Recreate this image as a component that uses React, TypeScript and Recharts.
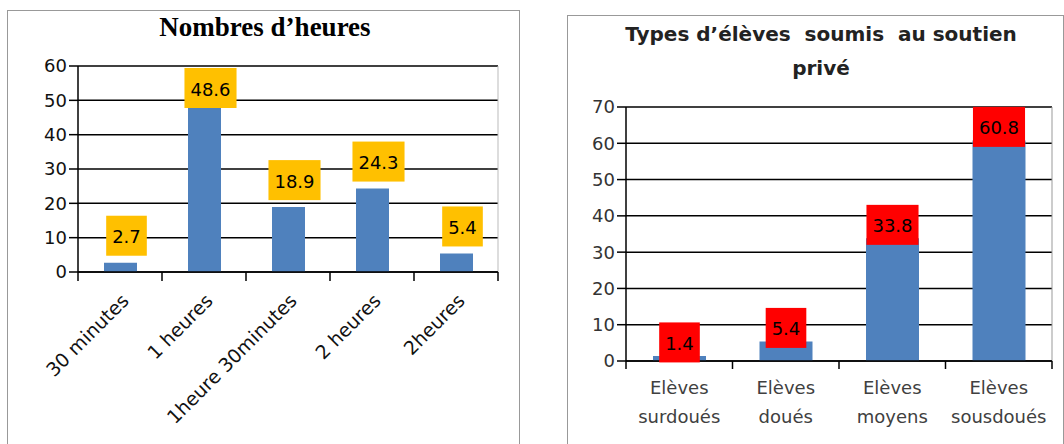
import React from 'react';
import { BarChart, Bar, XAxis, YAxis, CartesianGrid, LabelList } from 'recharts';

const hoursCategories = ['30 minutes', '1 heures', '1heure 30minutes', '2 heures', '2heures'];
const hoursValues = [2.7, 48.6, 18.9, 24.3, 5.4];
const hoursTicks = [0, 10, 20, 30, 40, 50, 60];

const typeCategories = ['Elèves\nsurdoués', 'Elèves\ndoués', 'Elèves\nmoyens', 'Elèves\nsousdoués'];
const typeValues = [1.4, 5.4, 33.8, 60.8];
const typeTicks = [0, 10, 20, 30, 40, 50, 60, 70];

const hoursData = hoursCategories.map((c, i) => ({ name: c, value: hoursValues[i] }));
const typeData = typeCategories.map((c, i) => ({ name: c, value: typeValues[i] }));

const FONT = '"DejaVu Sans", Verdana, sans-serif';
const BLUE = '#4F81BD';

let ctx: any = null;
function measure(text: string, font: string): number {
  try {
    if (!ctx) ctx = document.createElement('canvas').getContext('2d');
    ctx.font = font;
    return ctx.measureText(text).width;
  } catch (e) {
    return text.length * 10;
  }
}

// Left chart geometry
const L_W = 512, L_H = 434;
const L_M = { top: 56, right: 22, bottom: 0, left: 0 };
const L_YW = 70;
const L_XH = 172;
const L_PLOT_W = L_W - L_M.left - L_M.right - L_YW;

// Right chart geometry
const R_W = 497, R_H = 429;
const R_M = { top: 92, right: 12, bottom: 0, left: 0 };
const R_YW = 59;
const R_XH = 83;
const R_PLOT_W = R_W - R_M.left - R_M.right - R_YW;

const HoursTick = (props: any) => {
  const { x, y, payload, index } = props;
  const n = hoursCategories.length;
  const band = L_PLOT_W / n;
  const X = Number(x), Y = Number(y);
  return (
    <g>
      <line x1={X - band / 2} y1={Y} x2={X - band / 2} y2={Y + 9} stroke="#000" strokeWidth={1.5} />
      {index === n - 1 && <line x1={X + band / 2} y1={Y} x2={X + band / 2} y2={Y + 9} stroke="#000" strokeWidth={1.5} />}
      <text
        x={X + 10}
        y={Y + 30}
        textAnchor="end"
        transform={`rotate(-45 ${X + 10} ${Y + 30})`}
        fontFamily={FONT}
        fontSize={19}
        fill="#111"
      >
        {payload.value}
      </text>
    </g>
  );
};

const TypeTick = (props: any) => {
  const { x, y, payload, index } = props;
  const n = typeCategories.length;
  const band = R_PLOT_W / n;
  const X = Number(x), Y = Number(y);
  const lines = String(payload.value).split('\n');
  return (
    <g>
      <line x1={X - band / 2} y1={Y} x2={X - band / 2} y2={Y + 8} stroke="#000" strokeWidth={1.5} />
      {index === n - 1 && <line x1={X + band / 2} y1={Y} x2={X + band / 2} y2={Y + 8} stroke="#000" strokeWidth={1.5} />}
      <text textAnchor="middle" fontFamily={FONT} fontSize={18} fill="#404040">
        {lines.map((l, i) => (
          <tspan key={i} x={X} y={Y + 33 + i * 29}>{l}</tspan>
        ))}
      </text>
    </g>
  );
};

const HoursLabel = (p: any) => {
  const x = Number(p.x), y = Number(p.y), width = Number(p.width);
  const txt = String(p.value);
  const tw = measure(txt, `18px ${FONT}`);
  const w = tw + 12;
  const h = 40;
  const cx = x + width / 2 + 6;
  let top = y - 7 - h;
  top = Math.max(top, L_M.top + 2);
  return (
    <g>
      <rect x={cx - w / 2} y={top} width={w} height={h} fill="#FFC000" />
      <text x={cx} y={top + h / 2 + 1} textAnchor="middle" dominantBaseline="central" fontFamily={FONT} fontSize={18} fill="#000">
        {txt}
      </text>
    </g>
  );
};

const TypeLabel = (p: any) => {
  const x = Number(p.x), y = Number(p.y), width = Number(p.width);
  const txt = String(p.value);
  const tw = measure(txt, `18px ${FONT}`);
  const w = tw + 12;
  const h = 40;
  const cx = x + width / 2;
  const top = y - 13.5 - h / 2;
  return (
    <g>
      <rect x={cx - w / 2} y={top} width={w} height={h} fill="#FF0000" />
      <text x={cx} y={top + h / 2 + 1} textAnchor="middle" dominantBaseline="central" fontFamily={FONT} fontSize={18} fill="#000">
        {txt}
      </text>
    </g>
  );
};

export default function App() {
  return (
    <div style={{ position: 'absolute', left: 0, top: 0, width: 1064, height: 444, background: '#fff', overflow: 'hidden' }}>
      {/* Left panel */}
      <div style={{ position: 'absolute', left: 7, top: 10, width: 513, height: 460, border: '1px solid #999', boxSizing: 'border-box' }} />
      <div style={{ position: 'absolute', left: 8, top: 11, width: 514, textAlign: 'center', fontFamily: '"Liberation Serif", serif', fontWeight: 'bold', fontSize: 27, lineHeight: '32px', color: '#000' }}>
        Nombres d’heures
      </div>
      <div style={{ position: 'absolute', left: 8, top: 10 }}>
        <BarChart width={L_W} height={L_H} data={hoursData} margin={L_M} barSize={33}>
          <CartesianGrid vertical={false} stroke="#000" strokeWidth={1.5} />
          <CartesianGrid horizontal={false} verticalCoordinatesGenerator={() => [L_M.left + L_YW + L_PLOT_W]} stroke="#bbb" />
          <XAxis
            dataKey="name"
            interval={0}
            height={L_XH}
            tickLine={false}
            tickSize={0}
            tickMargin={0}
            axisLine={{ stroke: '#000', strokeWidth: 1.5 }}
            tick={<HoursTick />}
          />
          <YAxis
            width={L_YW}
            domain={[0, 60]}
            ticks={hoursTicks}
            interval={0}
            tickSize={9}
            tickMargin={2}
            tickLine={{ stroke: '#000', strokeWidth: 1.5 }}
            axisLine={{ stroke: '#000', strokeWidth: 1.5 }}
            tick={{ fill: '#111', fontSize: 18, fontFamily: FONT }}
          />
          <Bar dataKey="value" fill={BLUE} isAnimationActive={false}>
            <LabelList dataKey="value" content={<HoursLabel />} />
          </Bar>
        </BarChart>
      </div>

      {/* Right panel */}
      <div style={{ position: 'absolute', left: 567, top: 15, width: 497, height: 460, border: '1px solid #999', boxSizing: 'border-box' }} />
      <div style={{ position: 'absolute', left: 570, top: 17, width: 502, textAlign: 'center', fontFamily: FONT, fontWeight: 'bold', fontSize: 20, lineHeight: '34px', color: '#222', whiteSpace: 'pre' }}>
        {'Types d’élèves  soumis  au soutien\nprivé'}
      </div>
      <div style={{ position: 'absolute', left: 567, top: 15 }}>
        <BarChart width={R_W} height={R_H} data={typeData} margin={R_M} barSize={53}>
          <CartesianGrid vertical={false} stroke="#000" strokeWidth={1.5} />
          <CartesianGrid horizontal={false} verticalCoordinatesGenerator={() => [R_M.left + R_YW + R_PLOT_W]} stroke="#999" />
          <XAxis
            dataKey="name"
            interval={0}
            height={R_XH}
            tickLine={false}
            tickSize={0}
            tickMargin={0}
            axisLine={{ stroke: '#000', strokeWidth: 1.5 }}
            tick={<TypeTick />}
          />
          <YAxis
            width={R_YW}
            domain={[0, 70]}
            ticks={typeTicks}
            interval={0}
            tickSize={9}
            tickMargin={2}
            tickLine={{ stroke: '#000', strokeWidth: 1.5 }}
            axisLine={{ stroke: '#000', strokeWidth: 1.5 }}
            tick={{ fill: '#333', fontSize: 18, fontFamily: FONT }}
          />
          <Bar dataKey="value" fill={BLUE} isAnimationActive={false}>
            <LabelList dataKey="value" content={<TypeLabel />} />
          </Bar>
        </BarChart>
      </div>
    </div>
  );
}
